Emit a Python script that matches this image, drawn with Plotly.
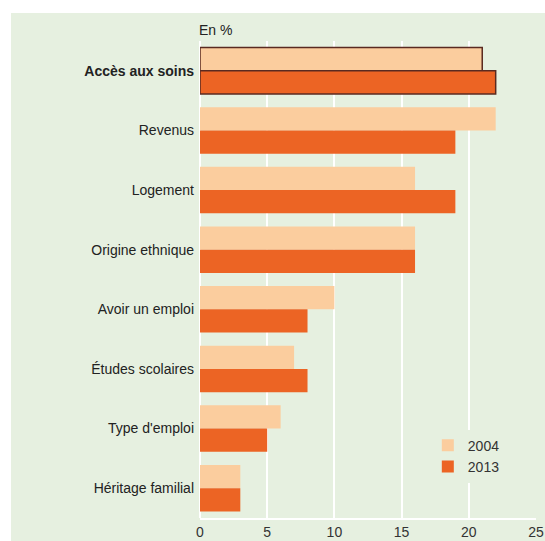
import plotly.graph_objects as go

# categories top to bottom, values in %
categories = ["Accès aux soins", "Revenus", "Logement", "Origine ethnique",
              "Avoir un emploi", "Études scolaires", "Type d'emploi", "Héritage familial"]
v2004 = [21, 22, 16, 16, 10, 7, 6, 3]
v2013 = [22, 19, 19, 16, 8, 8, 5, 3]
x_ticks = [0, 5, 10, 15, 20, 25]

BG = "#e6f0e0"
C04 = "#fbcd9e"
C13 = "#ec6424"
EDGE = "#5a2a20"
FONT = "Liberation Sans Narrow, Arial Narrow, Liberation Sans, Arial, sans-serif"

ticktext = [f"<b>{c}</b>" if i == 0 else c for i, c in enumerate(categories)]
line_w = [1.5 if i == 0 else 0 for i in range(len(categories))]

fig = go.Figure()
for name, vals, col in [("2004", v2004, C04), ("2013", v2013, C13)]:
    fig.add_trace(go.Bar(y=categories, x=vals, name=name, orientation="h",
                         showlegend=False, offsetgroup=name,
                         marker=dict(color=col, line=dict(color=EDGE, width=line_w))))
# legend entries without the outline (same offset groups, no data)
for name, col in [("2004", C04), ("2013", C13)]:
    fig.add_trace(go.Bar(y=[None], x=[None], name=name, orientation="h",
                         offsetgroup=name, hoverinfo="skip",
                         marker=dict(color=col, line=dict(width=0))))

fig.update_layout(
    width=545, height=541,
    margin=dict(l=200, r=9, t=41, b=23),
    paper_bgcolor="white", plot_bgcolor=BG,
    barmode="group", bargap=0.22, bargroupgap=0,
    font=dict(family=FONT, size=14, color="#222"),
    legend=dict(x=0.678, y=0.185, xanchor="left", yanchor="top",
                bgcolor=BG, font=dict(size=14, color="#333"),
                itemwidth=30, tracegroupgap=2),
    shapes=[dict(type="rect", xref="paper", yref="paper",
                 x0=-0.5625, x1=1.03, y0=-0.05, y1=1.0587,
                 fillcolor=BG, line=dict(width=0), layer="below")],
    annotations=[dict(text="En %", xref="paper", yref="paper", x=-0.01, y=1.003,
                      xanchor="left", yanchor="bottom", showarrow=False,
                      font=dict(size=14, color="#222"))],
)
fig.update_xaxes(range=[0, 25], tickvals=x_ticks, showgrid=True, gridcolor="white",
                 gridwidth=2, zeroline=True, zerolinecolor="white", zerolinewidth=2,
                 showline=True, linecolor="white", linewidth=2, automargin=False,
                 tickfont=dict(size=14, color="#333"))
fig.update_yaxes(autorange="reversed", tickvals=categories, ticktext=ticktext,
                 showgrid=False, ticklabelstandoff=5, automargin=False,
                 tickfont=dict(size=14, color="#222"))

# drop the default 8px page margin so the figure fills the window
fig.write_html("out.html", config={"displayModeBar": False},
               post_script="document.body.style.margin='0';")
